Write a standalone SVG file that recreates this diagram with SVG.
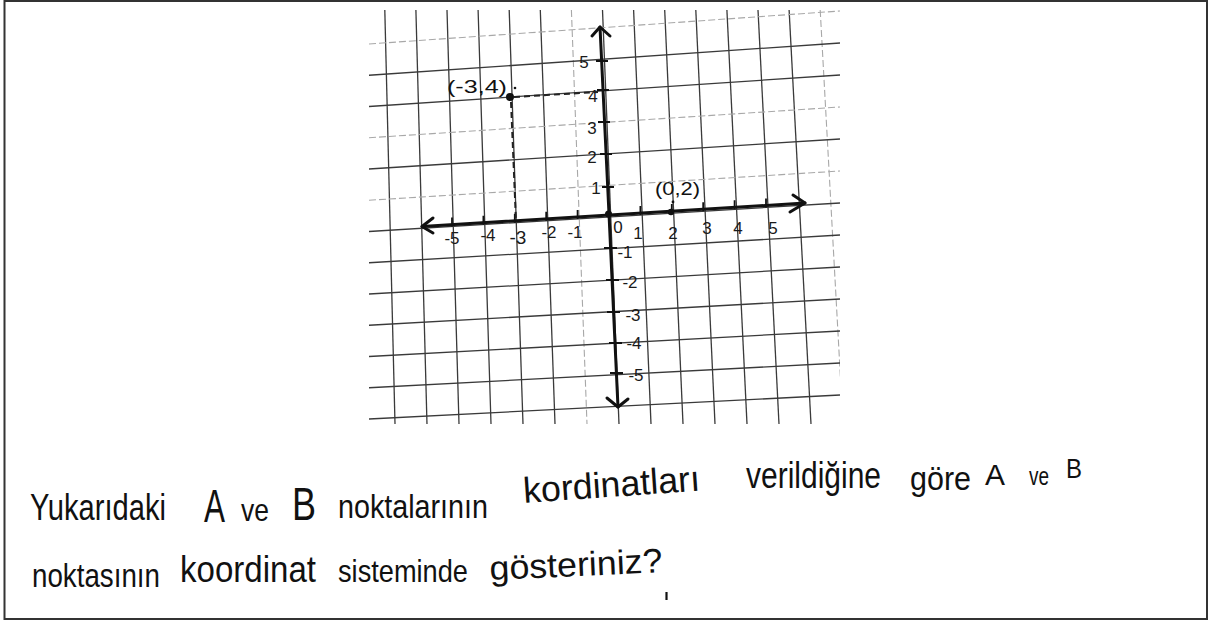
<svg xmlns="http://www.w3.org/2000/svg" width="1217" height="620" viewBox="0 0 1217 620">
<style>
.g{stroke:#3a3a3a;stroke-width:1.3;fill:none}
.gl{stroke:#a8a8a8;stroke-width:1.1;fill:none;stroke-dasharray:7 3}
.ax{stroke:#111;stroke-width:3;fill:none;stroke-linecap:round;stroke-linejoin:round}
.tk{stroke:#111;stroke-width:1.8;fill:none}
.dsh{stroke:#222;stroke-width:2;fill:none;stroke-dasharray:6 4}
.lb{font-family:"Liberation Sans",Arial,sans-serif;font-size:17px;fill:#1a1a1a;text-anchor:middle}
.tx{font-family:"Liberation Sans",Arial,sans-serif;fill:#111}
</style>
<defs>
<clipPath id="gc"><rect x="369" y="10" width="471" height="414"/></clipPath>
</defs>
<rect x="0" y="0" width="1217" height="620" fill="#fff"/>
<rect x="4.5" y="1" width="1202.5" height="618" fill="none" stroke="#333" stroke-width="2"/>

<g id="grid" clip-path="url(#gc)">
<line class="g" x1="384.8" y1="10" x2="395" y2="424"/>
<line class="g" x1="415.9" y1="10" x2="427" y2="424"/>
<line class="g" x1="447" y1="10" x2="459" y2="424"/>
<line class="g" x1="478.1" y1="10" x2="491" y2="424"/>
<line class="g" x1="509.2" y1="10" x2="523" y2="424"/>
<line class="g" x1="540.3" y1="10" x2="555" y2="424"/>
<line class="gl" x1="571.4" y1="10" x2="587" y2="424"/>
<line class="g" x1="602.5" y1="10" x2="619" y2="424"/>
<line class="g" x1="633.6" y1="10" x2="651" y2="424"/>
<line class="g" x1="664.7" y1="10" x2="683" y2="424"/>
<line class="g" x1="695.8" y1="10" x2="715" y2="424"/>
<line class="g" x1="726.9" y1="10" x2="747" y2="424"/>
<line class="g" x1="758" y1="10" x2="779" y2="424"/>
<line class="g" x1="789.1" y1="10" x2="811" y2="424"/>
<line class="gl" x1="820.2" y1="10" x2="843" y2="424"/>
<line class="gl" x1="369" y1="44" x2="840" y2="11"/>
<line class="g" x1="369" y1="75.25" x2="840" y2="43"/>
<line class="g" x1="369" y1="106.5" x2="840" y2="75"/>
<line class="gl" x1="369" y1="137.75" x2="840" y2="107"/>
<line class="g" x1="369" y1="169" x2="840" y2="139"/>
<line class="gl" x1="369" y1="200.25" x2="840" y2="171"/>
<line class="g" x1="369" y1="231.5" x2="840" y2="203"/>
<line class="g" x1="369" y1="262.75" x2="840" y2="235"/>
<line class="g" x1="369" y1="294" x2="840" y2="267"/>
<line class="g" x1="369" y1="325.25" x2="840" y2="299"/>
<line class="g" x1="369" y1="356.5" x2="840" y2="331"/>
<line class="g" x1="369" y1="387.75" x2="840" y2="363"/>
<line class="g" x1="369" y1="419" x2="840" y2="395"/>
</g>

<g id="axes">
<line class="ax" x1="422" y1="226.5" x2="805" y2="203"/>
<polyline class="ax" points="433,218 422,226.5 433,233"/>
<polyline class="ax" points="793,195 805,203 790,212"/>
<polyline class="ax" points="600,27 609,214 618,407" stroke-width="3.6"/>
<polyline class="ax" points="592,36 600,27 610,36"/>
<polyline class="ax" points="607,398 618,407 628,399"/>
</g>

<g id="ticks">
<path class="tk" d="M452,217.6v9 M483.4,215.7v9 M514.8,213.8v9 M546.2,211.8v9 M577.6,209.9v9 M640.4,206.1v9 M671.8,204.1v9 M703.2,202.2v9 M734.6,200.3v9 M766,198.4v9"/>
<path class="tk" d="M596,61h12 M597,90h12 M598,122h12 M600,154h12 M602,187h12 M604,248h13 M606,280h13 M607,312h13 M609,343h13 M610,373h13"/>
<circle cx="608.5" cy="214" r="3.5" fill="#111"/>
</g>

<g id="labels">
<text class="lb" x="584" y="68">5</text>
<text class="lb" x="593" y="102">4</text>
<text class="lb" x="592" y="134">3</text>
<text class="lb" x="592" y="163">2</text>
<text class="lb" x="596" y="194">1</text>
<text class="lb" x="452" y="244">-5</text>
<text class="lb" x="488" y="241">-4</text>
<text class="lb" x="518" y="244" style="font-size:19px">-3</text>
<text class="lb" x="549" y="238">-2</text>
<text class="lb" x="575" y="238">-1</text>
<text class="lb" x="618" y="233">0</text>
<text class="lb" x="638" y="239">1</text>
<text class="lb" x="673" y="239">2</text>
<text class="lb" x="707" y="234">3</text>
<text class="lb" x="738" y="234">4</text>
<text class="lb" x="773" y="234">5</text>
<text class="lb" x="625" y="258">-1</text>
<text class="lb" x="630" y="288">-2</text>
<text class="lb" x="633" y="321">-3</text>
<text class="lb" x="634" y="349">-4</text>
<text class="lb" x="636" y="381">-5</text>
</g>

<g id="pointA">
<line class="dsh" x1="514" y1="97" x2="598" y2="92"/>
<line class="dsh" x1="511" y1="102" x2="516" y2="222"/>
<circle cx="510" cy="97" r="4" fill="#111"/>
<circle cx="515" cy="88" r="1.3" fill="#111"/>
<text class="tx" x="447" y="93" font-size="19" textLength="60" lengthAdjust="spacingAndGlyphs">(-3,4)</text>
</g>

<g id="pointB">
<circle cx="671" cy="212" r="3.2" fill="#111"/>
<circle cx="673" cy="202" r="1.4" fill="#111"/>
<text class="tx" x="655" y="195" font-size="19" textLength="45" lengthAdjust="spacingAndGlyphs">(0,2)</text>
</g>

<g id="question">
<text class="tx" x="30" y="520" font-size="36" textLength="136" lengthAdjust="spacingAndGlyphs">Yukarıdaki</text>
<text class="tx" x="204" y="522" font-size="46" textLength="21" lengthAdjust="spacingAndGlyphs">A</text>
<text class="tx" x="241" y="521" font-size="32" textLength="28" lengthAdjust="spacingAndGlyphs">ve</text>
<text class="tx" x="292" y="520" font-size="46" textLength="24" lengthAdjust="spacingAndGlyphs">B</text>
<text class="tx" x="338" y="518" font-size="34" textLength="150" lengthAdjust="spacingAndGlyphs">noktalarının</text>
<text class="tx" x="524" y="503" font-size="36" textLength="177" lengthAdjust="spacingAndGlyphs" transform="rotate(-4 524 503)">kordinatları</text>
<text class="tx" x="746" y="488" font-size="36" textLength="135" lengthAdjust="spacingAndGlyphs">verildiğine</text>
<text class="tx" x="910" y="490" font-size="34" textLength="61" lengthAdjust="spacingAndGlyphs">göre</text>
<text class="tx" x="985" y="485" font-size="30" textLength="20" lengthAdjust="spacingAndGlyphs">A</text>
<text class="tx" x="1029" y="485" font-size="26" textLength="20" lengthAdjust="spacingAndGlyphs">ve</text>
<text class="tx" x="1066" y="478" font-size="28" textLength="16" lengthAdjust="spacingAndGlyphs">B</text>
<text class="tx" x="32" y="587" font-size="34" textLength="128" lengthAdjust="spacingAndGlyphs">noktasının</text>
<text class="tx" x="180" y="582" font-size="36" textLength="136" lengthAdjust="spacingAndGlyphs">koordinat</text>
<text class="tx" x="338" y="582" font-size="32" textLength="130" lengthAdjust="spacingAndGlyphs">sisteminde</text>
<text class="tx" x="490" y="580" font-size="34" textLength="173" lengthAdjust="spacingAndGlyphs" transform="rotate(-2.6 490 580)">gösteriniz?</text>
<line x1="666.5" y1="592" x2="666.5" y2="600" stroke="#111" stroke-width="2.2"/>
</g>
</svg>
